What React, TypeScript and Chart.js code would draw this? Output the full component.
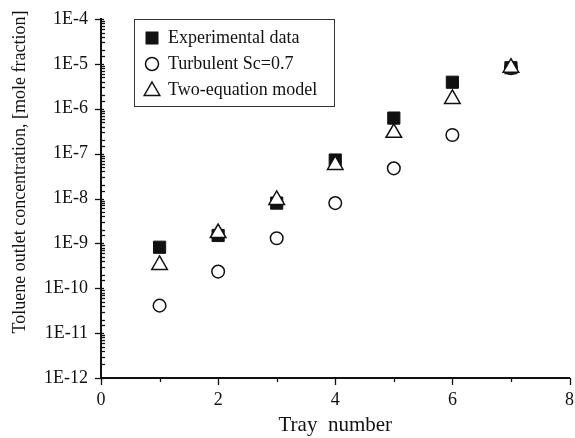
import React, { useEffect, useRef } from 'react';
import { Chart, registerables } from 'chart.js';

Chart.register(...registerables);

const trays = [1, 2, 3, 4, 5, 6, 7];
const experimental = [8.2e-10, 1.5e-9, 7.9e-9, 7.2e-8, 6.2e-7, 3.9e-6, 8.2e-6];
const turbulent = [4.1e-11, 2.35e-10, 1.3e-9, 7.9e-9, 4.7e-8, 2.6e-7, 8.0e-6];
const twoEquation = [3.3e-10, 1.7e-9, 9.3e-9, 5.6e-8, 2.9e-7, 1.65e-6, 8.2e-6];
const legendLabels = ['Experimental data', 'Turbulent Sc=0.7', 'Two-equation model'];
const yTitle = 'Toluene outlet concentration, [mole fraction]';
const xTitle = 'Tray  number';

const FONT = '"Liberation Serif", "Times New Roman", serif';
const INK = '#111';

const isPow10 = (v: number) => {
  const l = Math.log10(v);
  return Math.abs(l - Math.round(l)) < 1e-6;
};

const axisPlugin = {
  id: 'customAxes',
  afterDraw(chart: any) {
    const ctx = chart.ctx;
    const ca = chart.chartArea;
    const ys = chart.scales.y;
    const xs = chart.scales.x;
    ctx.save();
    ctx.strokeStyle = INK;
    ctx.lineWidth = 1.3;
    // y ticks
    ys.ticks.forEach((t: any) => {
      const py = Math.round(ys.getPixelForValue(t.value)) + 0.5;
      ctx.beginPath();
      if (isPow10(t.value)) {
        ctx.moveTo(ca.left - 6, py);
        ctx.lineTo(ca.left + 3, py);
      } else {
        ctx.moveTo(ca.left, py);
        ctx.lineTo(ca.left + 4, py);
      }
      ctx.stroke();
    });
    // x ticks
    xs.ticks.forEach((t: any) => {
      const px = Math.round(xs.getPixelForValue(t.value)) + 0.5;
      ctx.beginPath();
      ctx.moveTo(px, ca.bottom);
      ctx.lineTo(px, ca.bottom + (t.value % 2 === 0 ? 7 : 4));
      ctx.stroke();
    });
    // y title
    ctx.fillStyle = INK;
    ctx.font = `18px ${FONT}`;
    ctx.textAlign = 'center';
    ctx.textBaseline = 'middle';
    ctx.translate(20, 172);
    ctx.rotate(-Math.PI / 2);
    ctx.fillText(yTitle, 0, 0);
    ctx.restore();

    // legend
    ctx.save();
    ctx.strokeStyle = '#333';
    ctx.lineWidth = 1;
    ctx.strokeRect(134.5, 19.5, 200, 87);
    const rows = [38, 64, 90];
    const mx = 152;
    ctx.font = `18px ${FONT}`;
    ctx.textAlign = 'left';
    ctx.textBaseline = 'middle';
    rows.forEach((ry, i) => {
      ctx.fillStyle = INK;
      ctx.strokeStyle = INK;
      ctx.lineWidth = 1.5;
      if (i === 0) {
        ctx.fillRect(mx - 6.5, ry - 6.5, 13, 13);
      } else if (i === 1) {
        ctx.beginPath();
        ctx.arc(mx, ry, 6.5, 0, Math.PI * 2);
        ctx.stroke();
      } else {
        const r = 9;
        ctx.beginPath();
        ctx.moveTo(mx, ry - r + 1);
        ctx.lineTo(mx + r * 0.866, ry + r * 0.5 + 1);
        ctx.lineTo(mx - r * 0.866, ry + r * 0.5 + 1);
        ctx.closePath();
        ctx.stroke();
      }
      ctx.fillStyle = INK;
      ctx.fillText(legendLabels[i], 168, ry);
    });
    ctx.restore();
  },
};

export default function App() {
  const ref = useRef<HTMLCanvasElement | null>(null);
  useEffect(() => {
    if (!ref.current) return;
    const chart = new Chart(ref.current, {
      type: 'scatter',
      data: {
        datasets: [
          {
            label: legendLabels[0],
            data: trays.map((t, i) => ({ x: t, y: experimental[i] })),
            pointStyle: 'rect',
            pointRadius: 8.6,
            borderWidth: 1,
            backgroundColor: INK,
            borderColor: INK,
            order: 2,
          },
          {
            label: legendLabels[1],
            data: trays.map((t, i) => ({ x: t, y: turbulent[i] })),
            pointStyle: 'circle',
            pointRadius: 6.3,
            borderWidth: 1.5,
            backgroundColor: 'rgba(255,255,255,0)',
            borderColor: INK,
            order: 1,
          },
          {
            label: legendLabels[2],
            data: trays.map((t, i) => ({ x: t, y: twoEquation[i] })),
            pointStyle: 'triangle',
            pointRadius: 9,
            borderWidth: 1.5,
            backgroundColor: '#fff',
            borderColor: INK,
            order: 0,
          },
        ],
      },
      options: {
        responsive: false,
        animation: false,
        layout: { padding: { top: 19, right: 0, left: 0, bottom: 0 } },
        plugins: { legend: { display: false }, tooltip: { enabled: false } },
        scales: {
          x: {
            type: 'linear',
            min: 0,
            max: 8,
            grid: { display: false, drawTicks: false },
            border: { display: true, width: 2, color: INK },
            ticks: {
              stepSize: 1,
              autoSkip: false,
              maxRotation: 0,
              padding: 11,
              color: INK,
              font: { family: FONT, size: 18 },
              callback: (v: any) => (Number(v) % 2 === 0 ? String(v) : ''),
            },
            title: {
              display: true,
              text: xTitle,
              color: INK,
              font: { family: FONT, size: 21 },
              padding: { top: 0, bottom: 0 },
            },
            afterFit: (s: any) => {
              s.height = 60;
              s.paddingLeft = 0;
              s.paddingRight = 0;
            },
          },
          y: {
            type: 'logarithmic',
            min: 1e-12,
            max: 1e-4,
            grid: { display: false, drawTicks: false },
            border: { display: true, width: 2, color: INK },
            ticks: {
              autoSkip: false,
              padding: 13,
              color: INK,
              font: { family: FONT, size: 18 },
              callback: (v: any) => {
                const n = Number(v);
                return isPow10(n) ? '1E' + Math.round(Math.log10(n)) : '';
              },
            },
            afterFit: (s: any) => {
              s.width = 101;
              s.paddingTop = 0;
              s.paddingBottom = 0;
            },
          },
        },
      },
      plugins: [axisPlugin],
    });
    return () => chart.destroy();
  }, []);
  return (
    <div
      style={{
        position: 'fixed',
        left: 0,
        top: 0,
        width: 575,
        height: 438,
        overflow: 'hidden',
        background: '#fff',
      }}
    >
      <canvas ref={ref} width={580} height={438} style={{ display: 'block' }} />
    </div>
  );
}
